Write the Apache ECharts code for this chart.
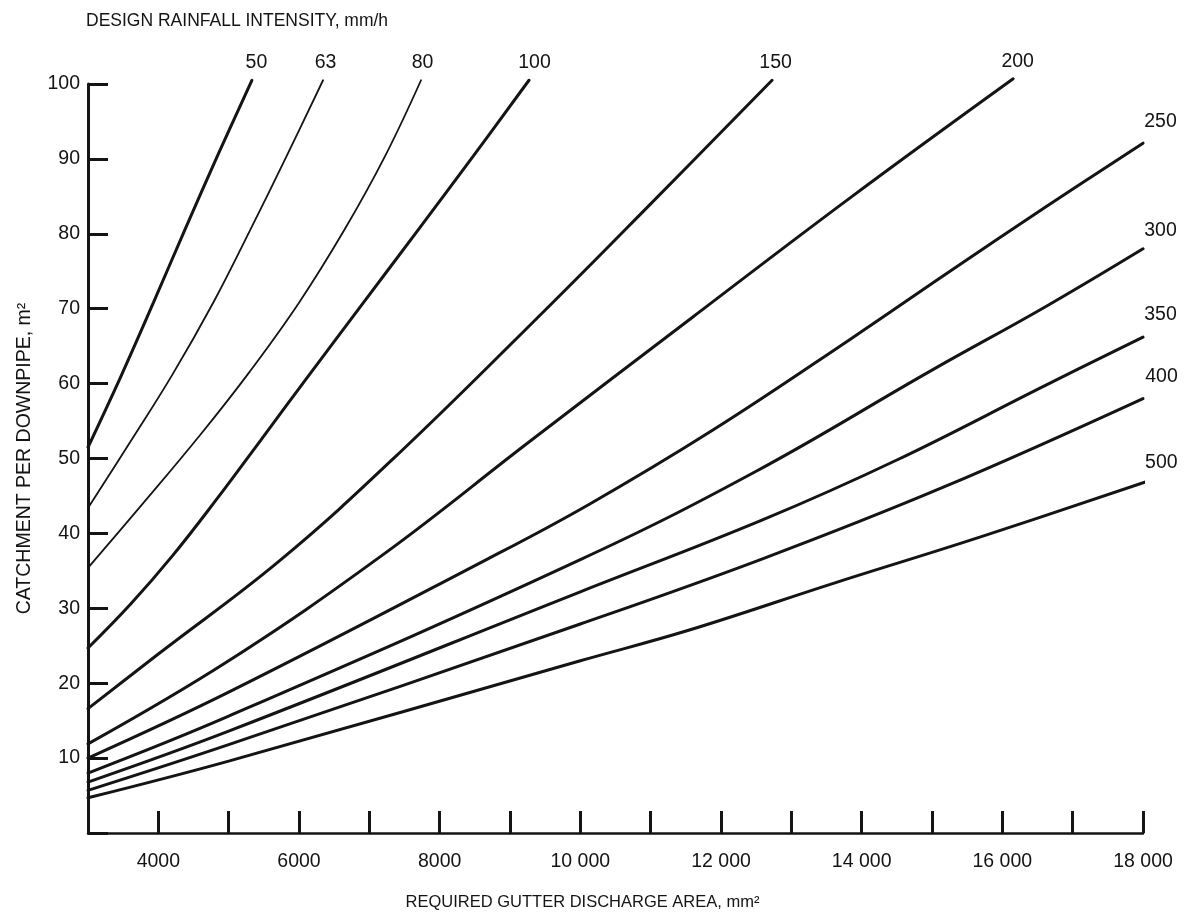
<!DOCTYPE html>
<html>
<head>
<meta charset="utf-8">
<title>Catchment per downpipe</title>
<script src="https://cdn.jsdelivr.net/npm/echarts@6/dist/echarts.min.js"></script>
<style>
  html, body { margin: 0; padding: 0; background: #fff; }
  #chart { width: 1194px; height: 913px; }
</style>
</head>
<body>
<div id="chart"></div>
<script>
const FONT = '"Liberation Sans", Arial, Helvetica, sans-serif';
const INK = '#141414';

// design rainfall intensity, mm/h (one curve each)
const intensities = ['50', '63', '80', '100', '150', '200', '250', '300', '350', '400', '500'];

// [required gutter discharge area mm², catchment per downpipe m²]
const curve50 = [[3000, 51.5], [3460, 60.8], [3930, 70.8], [4380, 80.6], [4850, 90.6], [5330, 100.5]];
const curve63 = [[3000, 43.4], [3600, 52.2], [4200, 61.2], [4780, 70.8], [5300, 80.4], [5820, 90.3], [6342, 100.5]];
const curve80 = [[3000, 35.4], [3800, 44.2], [4600, 53.2], [5300, 61.6], [6000, 70.8], [6650, 80.6], [7220, 90.3], [7735, 100.5]];
const curve100 = [[3000, 24.7], [3600, 30.5], [4200, 37.0], [4800, 44.2], [5460, 52.5], [6100, 60.6], [6900, 70.6], [7700, 80.6], [8480, 90.4], [9270, 100.5]];
const curve150 = [[3000, 16.6], [4000, 23.9], [5730, 36.4], [7400, 50.5], [9541, 70.2], [11000, 84.0], [12726, 100.5]];
const curve200 = [[3000, 11.9], [5000, 23.0], [7200, 37.2], [9256, 52.1], [11600, 68.9], [13850, 84.9], [16154, 100.7]];
const curve250 = [[3000, 10.0], [5000, 18.8], [8645, 36.4], [10110, 43.8], [11885, 53.8], [13850, 66.0], [15240, 74.9], [16620, 83.6], [18000, 92.1]];
const curve300 = [[3000, 8.0], [5000, 15.6], [10000, 36.5], [12500, 48.3], [15000, 61.8], [16620, 70.3], [18000, 78.0]];
const curve350 = [[3000, 6.8], [5000, 13.6], [10000, 32.2], [12590, 41.8], [14500, 49.8], [16620, 59.8], [18000, 66.2]];
const curve400 = [[3000, 5.7], [5000, 11.8], [10000, 27.9], [12590, 36.6], [15170, 46.2], [18000, 58.0]];
const curve500 = [[3000, 4.7], [5000, 9.6], [10000, 23.0], [11550, 27.1], [13620, 33.4], [15680, 39.5], [18140, 47.2]];

const curves = [curve50, curve63, curve80, curve100, curve150, curve200, curve250, curve300, curve350, curve400, curve500];

// the 63 and 80 curves are drawn with a finer pen
const thinCurves = ['63', '80'];

// where each curve's name sits, relative to the curve's end (px)
const labelShift = {
    50: [5, -7], 63: [3, -7], 80: [2, -7], 100: [6, -7], 150: [4, -7], 200: [5, -7],
    250: [18, -11], 300: [18, -8], 350: [18, -12], 400: [19, -11], 500: [9, -6],
};

const fmtArea = (v) => (v >= 10000 ? String(v).replace(/\B(?=(\d{3})+(?!\d))/g, ' ') : String(v));

const chart = echarts.init(document.getElementById('chart'), null, { renderer: 'canvas' });

const lineSeries = intensities.map((name, i) => ({
    name,
    type: 'line',
    data: curves[i],
    smooth: 0.4,
    showSymbol: false,
    clip: false,
    silent: true,
    animation: false,
    lineStyle: { color: INK, width: thinCurves.includes(name) ? 1.8 : 3, cap: 'round' },
}));

const labelSeries = {
    type: 'scatter',
    symbolSize: 1,
    clip: false,
    silent: true,
    animation: false,
    itemStyle: { opacity: 0 },
    label: {
        show: true,
        align: 'center',
        verticalAlign: 'bottom',
        formatter: (p) => p.name,
        color: INK,
        opacity: 1,
        fontSize: 19.5,
        fontFamily: FONT,
    },
    labelLayout: { hideOverlap: false },
    data: intensities.map((name, i) => ({
        name,
        value: curves[i][curves[i].length - 1],
        label: { position: labelShift[name] },
    })),
};

chart.setOption({
    backgroundColor: '#fff',
    animation: false,
    title: {
        text: 'DESIGN RAINFALL INTENSITY, mm/h',
        left: 86,
        top: 12,
        padding: 0,
        textStyle: { fontSize: 17.5, fontWeight: 'normal', color: INK, fontFamily: FONT },
    },
    grid: { left: 88, right: 51, top: 84, bottom: 80, containLabel: false, outerBoundsMode: 'none' },
    xAxis: {
        type: 'value',
        min: 3000,
        max: 18000,
        interval: 1000,
        name: 'REQUIRED GUTTER DISCHARGE AREA, mm²',
        nameLocation: 'middle',
        nameGap: 61,
        // the title sits left of the plot's centre
        nameTextStyle: { fontSize: 16.5, color: INK, fontFamily: FONT, padding: [0, 66, 0, 0] },
        axisLine: { show: true, lineStyle: { color: INK, width: 2.5 } },
        axisTick: { show: true, inside: true, length: 22, lineStyle: { color: INK, width: 3 } },
        axisLabel: {
            formatter: (v) => (v > 3000 && v % 2000 === 0 ? fmtArea(v) : ''),
            margin: 19,
            fontSize: 19.5,
            color: INK,
            fontFamily: FONT,
        },
        splitLine: { show: false },
    },
    yAxis: {
        type: 'value',
        min: 0,
        max: 100,
        interval: 10,
        name: 'CATCHMENT PER DOWNPIPE, m²',
        nameLocation: 'middle',
        nameGap: 53,
        nameTextStyle: { fontSize: 19.5, color: INK, fontFamily: FONT },
        axisLine: { show: true, lineStyle: { color: INK, width: 3 } },
        axisTick: { show: true, inside: true, length: 20, lineStyle: { color: INK, width: 3 } },
        axisLabel: {
            formatter: (v) => (v === 0 ? '' : String(v)),
            margin: 8,
            fontSize: 19.5,
            color: INK,
            fontFamily: FONT,
        },
        splitLine: { show: false },
    },
    series: [...lineSeries, labelSeries],
});
</script>
</body>
</html>
